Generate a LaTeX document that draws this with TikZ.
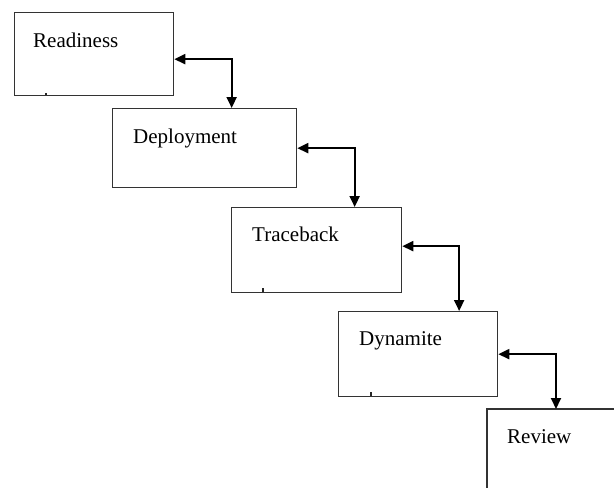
\documentclass[tikz,border=0pt]{standalone}
\usepackage{fontspec}
\setmainfont{Liberation Serif}
\usetikzlibrary{arrows.meta}
\begin{document}
\begin{tikzpicture}[x=1pt,y=-1pt,
  stagebox/.style={draw=black!80,line width=1.3pt,rectangle,inner sep=0pt,
    anchor=north west,minimum width=#1},
  stagebox/.default=160pt,
  stagetext/.style={anchor=base west,inner sep=0pt,font=\fontsize{21}{25}\selectfont},
  link/.style={line width=2pt,draw=black,
    {Triangle[length=11pt,width=10pt]}-{Triangle[length=11pt,width=10pt]}},
  tick/.style={line width=1.6pt,draw=black!85}]
  \useasboundingbox (0,0) rectangle (614,490);

  % stage boxes
  \node[stagebox=159pt,minimum height=83pt] (box1) at (14,12) {};
  \node[stagebox=184pt,minimum height=79pt] (box2) at (112,108) {};
  \node[stagebox=170pt,minimum height=85pt] (box3) at (231,207) {};
  \node[stagebox=159pt,minimum height=85pt] (box4) at (338,311) {};
  % last box runs off the page: only its top and left sides are drawn
  \node[inner sep=0pt,anchor=north west,minimum width=127pt,minimum height=79pt] (box5) at (487,409) {};
  \draw[draw=black!80,line width=1.3pt] (box5.north east) -- (box5.north west) -- (box5.south west);

  % stage names
  \node[stagetext] (t1) at ([shift={(19,35)}]box1.north west) {Readiness};
  \node[stagetext] (t2) at ([shift={(21,35)}]box2.north west) {Deployment};
  \node[stagetext] (t3) at ([shift={(21,34)}]box3.north west) {Traceback};
  \node[stagetext] (t4) at ([shift={(21,34)}]box4.north west) {Dynamite};
  \node[stagetext] (t5) at ([shift={(20,34)}]box5.north west) {Review};

  % small marks on the lower edges
  \draw[tick] ([shift={(32,-1)}]box1.south west) -- ++(0,-2);
  \draw[tick] ([shift={(32,-1)}]box3.south west) -- ++(0,-4);
  \draw[tick] ([shift={(33,-1)}]box4.south west) -- ++(0,-4);

  % two-way links between consecutive stages
  \draw[link] ([yshift=-5]box1.east) -| ([xshift=27]box2.north);
  \draw[link] (box2.east) -| ([xshift=38]box3.north);
  \draw[link] ([yshift=4]box3.east) -| ([xshift=41]box4.north);
  \draw[link] (box4.east) -| ([xshift=69]box5.north west);
\end{tikzpicture}
\end{document}
